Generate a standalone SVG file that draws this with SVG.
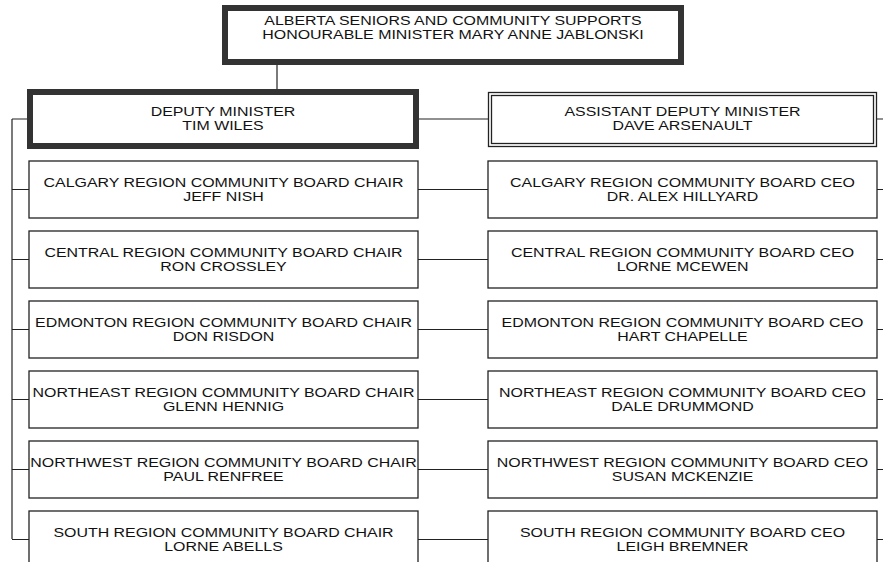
<svg xmlns="http://www.w3.org/2000/svg" width="883" height="562" viewBox="0 0 883 562">
<style>
text{font-family:"Liberation Sans",Arial,sans-serif;font-size:13.5px;fill:#111;text-anchor:middle}
.box{fill:#fff;stroke:#222;stroke-width:1.3}
.thick{fill:#fff;stroke:#333;stroke-width:6}
.ln{stroke:#222;stroke-width:1.2;fill:none}
</style>
<rect width="883" height="562" fill="#fff"/>
<g id="connectors">
<path class="ln" d="M277 65V92"/>
<path class="ln" d="M12 119V539"/>
<path class="ln" d="M12 119H30M12 189.5H29M12 259.5H29M12 329.5H29M12 399.5H29M12 469.5H29M12 539.5H29"/>
<path class="ln" d="M416 119H488M418 189.5H488M418 259.5H488M418 329.5H488M418 399.5H488M418 469.5H488M418 539.5H488"/>
<path class="ln" d="M877 119H883M877 189.5H883M877 259.5H883M877 329.5H883M877 399.5H883M877 469.5H883M877 539.5H883"/>
</g>
<g id="minister">
<rect class="thick" x="225" y="8" width="456" height="54"/>
<text transform="translate(453 25) scale(1.18 1)">ALBERTA SENIORS AND COMMUNITY SUPPORTS</text>
<text transform="translate(453 38.5) scale(1.18 1)">HONOURABLE MINISTER MARY ANNE JABLONSKI</text>
</g>
<g id="deputy">
<rect class="thick" x="30" y="92" width="386" height="54"/>
<text transform="translate(223 116) scale(1.18 1)">DEPUTY MINISTER</text>
<text transform="translate(223 130) scale(1.18 1)">TIM WILES</text>
</g>
<g id="adm">
<rect class="box" x="488.5" y="92.5" width="388" height="54"/>
<rect class="box" x="491.5" y="95.5" width="382" height="48"/>
<text transform="translate(682.5 116) scale(1.18 1)">ASSISTANT DEPUTY MINISTER</text>
<text transform="translate(682.5 130) scale(1.18 1)">DAVE ARSENAULT</text>
</g>
<g id="calgary-chair">
<rect class="box" x="29" y="161" width="389" height="57"/>
<text transform="translate(223.5 187) scale(1.18 1)">CALGARY REGION COMMUNITY BOARD CHAIR</text>
<text transform="translate(223.5 200.5) scale(1.18 1)">JEFF NISH</text>
</g>
<g id="calgary-ceo">
<rect class="box" x="488" y="161" width="389" height="57"/>
<text transform="translate(682.5 187) scale(1.18 1)">CALGARY REGION COMMUNITY BOARD CEO</text>
<text transform="translate(682.5 200.5) scale(1.18 1)">DR. ALEX HILLYARD</text>
</g>
<g id="central-chair">
<rect class="box" x="29" y="231" width="389" height="57"/>
<text transform="translate(223.5 257) scale(1.18 1)">CENTRAL REGION COMMUNITY BOARD CHAIR</text>
<text transform="translate(223.5 270.5) scale(1.18 1)">RON CROSSLEY</text>
</g>
<g id="central-ceo">
<rect class="box" x="488" y="231" width="389" height="57"/>
<text transform="translate(682.5 257) scale(1.18 1)">CENTRAL REGION COMMUNITY BOARD CEO</text>
<text transform="translate(682.5 270.5) scale(1.18 1)">LORNE MCEWEN</text>
</g>
<g id="edmonton-chair">
<rect class="box" x="29" y="301" width="389" height="57"/>
<text transform="translate(223.5 327) scale(1.18 1)">EDMONTON REGION COMMUNITY BOARD CHAIR</text>
<text transform="translate(223.5 340.5) scale(1.18 1)">DON RISDON</text>
</g>
<g id="edmonton-ceo">
<rect class="box" x="488" y="301" width="389" height="57"/>
<text transform="translate(682.5 327) scale(1.18 1)">EDMONTON REGION COMMUNITY BOARD CEO</text>
<text transform="translate(682.5 340.5) scale(1.18 1)">HART CHAPELLE</text>
</g>
<g id="northeast-chair">
<rect class="box" x="29" y="371" width="389" height="57"/>
<text transform="translate(223.5 397) scale(1.18 1)">NORTHEAST REGION COMMUNITY BOARD CHAIR</text>
<text transform="translate(223.5 410.5) scale(1.18 1)">GLENN HENNIG</text>
</g>
<g id="northeast-ceo">
<rect class="box" x="488" y="371" width="389" height="57"/>
<text transform="translate(682.5 397) scale(1.18 1)">NORTHEAST REGION COMMUNITY BOARD CEO</text>
<text transform="translate(682.5 410.5) scale(1.18 1)">DALE DRUMMOND</text>
</g>
<g id="northwest-chair">
<rect class="box" x="29" y="441" width="389" height="57"/>
<text transform="translate(223.5 467) scale(1.18 1)">NORTHWEST REGION COMMUNITY BOARD CHAIR</text>
<text transform="translate(223.5 480.5) scale(1.18 1)">PAUL RENFREE</text>
</g>
<g id="northwest-ceo">
<rect class="box" x="488" y="441" width="389" height="57"/>
<text transform="translate(682.5 467) scale(1.18 1)">NORTHWEST REGION COMMUNITY BOARD CEO</text>
<text transform="translate(682.5 480.5) scale(1.18 1)">SUSAN MCKENZIE</text>
</g>
<g id="south-chair">
<rect class="box" x="29" y="511" width="389" height="57"/>
<text transform="translate(223.5 537) scale(1.18 1)">SOUTH REGION COMMUNITY BOARD CHAIR</text>
<text transform="translate(223.5 550.5) scale(1.18 1)">LORNE ABELLS</text>
</g>
<g id="south-ceo">
<rect class="box" x="488" y="511" width="389" height="57"/>
<text transform="translate(682.5 537) scale(1.18 1)">SOUTH REGION COMMUNITY BOARD CEO</text>
<text transform="translate(682.5 550.5) scale(1.18 1)">LEIGH BREMNER</text>
</g>
</svg>
